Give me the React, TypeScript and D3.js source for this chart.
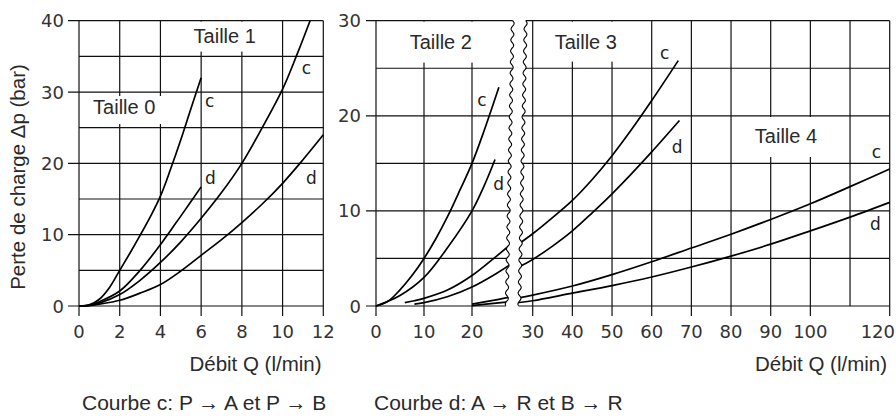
import React from 'react';
import * as d3 from 'd3';

// ---- axis ticks ----
const leftXTicks = [0, 2, 4, 6, 8, 10, 12];
const leftYGrid = [0, 5, 10, 15, 20, 25, 30, 35, 40];
const leftYLabels = [0, 10, 20, 30, 40];
const rightYGrid = [0, 5, 10, 15, 20, 25, 30];
const rightYLabels = [0, 10, 20, 30];
const rightXA = [0, 10, 20];
const rightXB = [30, 40, 50, 60, 70, 80, 90, 100, 110, 120];
const rightXBLabels = [30, 40, 50, 60, 70, 80, 90, 100, 120];

// ---- left chart series (Q l/min, Δp bar) ----
const taille0c = [[0, 0], [0.5, 0.15], [1, 0.95], [1.5, 2.6], [2, 5], [2.5, 7.4], [3, 9.9], [3.5, 12.5], [4, 15.4], [4.5, 19.2], [5, 23.3], [5.5, 27.7], [6, 32]];
const taille0d = [[0, 0], [0.5, 0.1], [1, 0.6], [2, 2.1], [3, 5], [4, 8.6], [4.5, 10.6], [5, 12.6], [6, 16.7]];
const taille1c = [[0, 0], [0.5, 0.1], [1, 0.4], [2, 1.6], [3, 3.6], [4, 6.1], [5, 9], [6, 12.3], [7, 15.9], [8, 20], [9, 25], [10, 30.4], [10.7, 35.2], [11.35, 40]];
const taille1d = [[0, 0], [0.5, 0.05], [1, 0.25], [2, 0.8], [3, 1.8], [4, 3], [5, 4.9], [6, 7.1], [7, 9.3], [8, 11.7], [9, 14.3], [10, 17.2], [11, 20.5], [12, 24]];

// ---- right chart series: left of the axis break ----
const taille2c = [[0, 0], [2.5, 0.5], [5, 1.7], [7.5, 3.2], [10, 5], [12.5, 7.1], [15, 9.5], [17.5, 12.2], [20, 15], [22.5, 18.4], [25.6, 23]];
const taille2d = [[0, 0], [5, 1.1], [10, 3], [15, 6.2], [20, 10], [22.5, 12.6], [24.8, 15.4]];
const taille3cLow = [[6, 0.35], [8, 0.55], [10, 0.8], [15, 1.7], [20, 3.2], [25, 5.2], [29, 6.9]];
const taille3dLow = [[8, 0.2], [10, 0.35], [15, 1.0], [20, 2.0], [25, 3.4], [29, 4.7]];
const taille4cLow = [[20, 0.2], [25, 0.65], [29, 1.05]];
const taille4dLow = [[20, 0.03], [25, 0.3], [29, 0.5]];
// ---- right chart series: right of the axis break ----
const taille3cHigh = [[25, 6.1], [30, 7.6], [35, 9.3], [40, 11.1], [45, 13.3], [50, 15.8], [55, 18.6], [60, 21.6], [66.7, 25.8]];
const taille3dHigh = [[25, 3.8], [30, 4.9], [35, 6.3], [40, 7.9], [45, 9.8], [50, 11.8], [55, 13.95], [60, 16.2], [67, 19.5]];
const taille4cHigh = [[25, 0.75], [30, 1.15], [40, 2.1], [50, 3.3], [60, 4.65], [70, 6.1], [80, 7.55], [90, 9.1], [100, 10.75], [110, 12.55], [120, 14.4]];
const taille4dHigh = [[25, 0.3], [30, 0.55], [40, 1.35], [50, 2.15], [60, 3.05], [70, 4.1], [80, 5.25], [90, 6.5], [100, 7.9], [110, 9.35], [120, 10.9]];

const leftSeries = [taille0c, taille0d, taille1c, taille1d];
const rightSeriesA = [taille2c, taille2d, taille3cLow, taille3dLow, taille4cLow, taille4dLow];
const rightSeriesB = [taille3cHigh, taille3dHigh, taille4cHigh, taille4dHigh];

const NUM_FONT = '"DejaVu Sans", sans-serif';
const TXT_FONT = '"Liberation Sans", Arial, sans-serif';
const TXT = '#2a2a2a';

export default function App() {
  const W = 896, H = 419;
  const xL = d3.scaleLinear().domain([0, 12]).range([79, 323.3]);
  const yL = d3.scaleLinear().domain([0, 40]).range([306, 20.7]);
  const yR = d3.scaleLinear().domain([0, 30]).range([306, 20.7]);
  const xA = d3.scaleLinear().domain([0, 20]).range([376, 472]);
  const xB = d3.scaleLinear().domain([30, 120]).range([532.7, 889.7]);

  const curve = d3.curveCatmullRom.alpha(0.5);
  const lineL = d3.line<number[]>().x(d => xL(d[0])).y(d => yL(d[1])).curve(curve);
  const lineA = d3.line<number[]>().x(d => xA(d[0])).y(d => yR(d[1])).curve(curve);
  const lineB = d3.line<number[]>().x(d => xB(d[0])).y(d => yR(d[1])).curve(curve);

  // wavy break lines
  const yTop = yR(30), yBot = yR(0) + 0.5;
  const wave = (xTop: number, xBot: number) => {
    const pts: [number, number][] = [];
    for (let y = yTop; y <= yBot + 0.01; y += 1) {
      const t = (y - yTop) / (yBot - yTop);
      pts.push([xTop + t * (xBot - xTop) + 1.5 * Math.sin(((y - yTop) / 11) * 2 * Math.PI), y]);
    }
    return pts;
  };
  const w1 = wave(512.7, 506.7);
  const w2 = wave(525.7, 519.3);
  const pathOf = (pts: [number, number][]) => d3.line()(pts) as string;
  const gapPoly = [...w1.map(p => [p[0], p[1]]), [w1[w1.length - 1][0], yBot + 2], [w2[w2.length - 1][0], yBot + 2], ...[...w2].reverse(), [w2[0][0], yTop - 0.8], [w1[0][0], yTop - 0.8]];
  const clipA = [[340, 10], [w1[0][0], 10], ...w1, [w1[w1.length - 1][0], 320], [340, 320]];
  const clipB = [[w2[0][0], 10], [900, 10], [900, 320], [w2[w2.length - 1][0], 320], ...[...w2].reverse()];
  const polyStr = (pts: number[][]) => pts.map(p => p.join(',')).join(' ');

  const gridStroke = '#111';
  const gw = 1.2;
  const cw = 1.7;

  const tailleBoxes = [
    { label: 'Taille 0', x: 124.2, y: 114, rect: [88, 96, 76, 28] },
    { label: 'Taille 1', x: 224.7, y: 43.3, rect: [188, 21.6, 73, 30] },
    { label: 'Taille 2', x: 440.8, y: 49.3, rect: [404, 21.6, 74, 41] },
    { label: 'Taille 3', x: 585.8, y: 49.3, rect: [549, 21.6, 73, 40] },
    { label: 'Taille 4', x: 786, y: 143.3, rect: [749, 117, 74, 40] },
  ];
  const curveLabels = [
    { t: 'c', x: 205, y: 107.3 },
    { t: 'd', x: 205, y: 184 },
    { t: 'c', x: 301.7, y: 74 },
    { t: 'd', x: 306, y: 184 },
    { t: 'c', x: 477.3, y: 106 },
    { t: 'd', x: 493.3, y: 190 },
    { t: 'c', x: 660, y: 59.3 },
    { t: 'd', x: 671.7, y: 153.3 },
    { t: 'c', x: 871.7, y: 158.3 },
    { t: 'd', x: 870, y: 230 },
  ];

  return (
    <div style={{ position: 'absolute', left: 0, top: 0 }}>
      <svg width={W} height={H} style={{ display: 'block', background: '#fff' }}>
        <defs>
          <clipPath id="clipA"><polygon points={polyStr(clipA)} /></clipPath>
          <clipPath id="clipB"><polygon points={polyStr(clipB)} /></clipPath>
        </defs>
        <rect x={0} y={0} width={W} height={H} fill="#fff" />

        {/* ---------- left chart vertical grid ---------- */}
        {leftXTicks.map(v => (
          <line key={'lv' + v} x1={xL(v)} x2={xL(v)} y1={yL(40)} y2={yL(0) + 10} stroke={gridStroke} strokeWidth={gw} />
        ))}
        {/* ---------- right chart vertical grid ---------- */}
        {rightXA.map(v => (
          <line key={'rva' + v} x1={xA(v)} x2={xA(v)} y1={yR(30)} y2={yR(0) + 10} stroke={gridStroke} strokeWidth={gw} />
        ))}
        {rightXB.map(v => (
          <line key={'rvb' + v} x1={xB(v)} x2={xB(v)} y1={yR(30)} y2={yR(0) + (rightXBLabels.includes(v) ? 10 : 0)} stroke={gridStroke} strokeWidth={gw} />
        ))}

        {/* white boxes behind Taille labels */}
        {tailleBoxes.map(b => (
          <rect key={'bx' + b.label} x={b.rect[0]} y={b.rect[1]} width={b.rect[2]} height={b.rect[3]} fill="#fff" />
        ))}

        {leftYGrid.map(v => (
          <line key={'lh' + v} x1={leftYLabels.includes(v) ? xL(0) - 11 : xL(0)} x2={xL(12)} y1={yL(v)} y2={yL(v)} stroke={gridStroke} strokeWidth={gw} />
        ))}
        {rightYGrid.map(v => (
          <line key={'rh' + v} x1={rightYLabels.includes(v) ? xA(0) - 10 : xA(0)} x2={xB(120)} y1={yR(v)} y2={yR(v)} stroke={gridStroke} strokeWidth={gw} />
        ))}

        {/* ---------- curves ---------- */}
        {leftSeries.map((s, i) => (
          <path key={'ls' + i} d={lineL(s) as string} fill="none" stroke="#000" strokeWidth={cw} />
        ))}
        <g clipPath="url(#clipA)">
          {rightSeriesA.map((s, i) => (
            <path key={'ra' + i} d={lineA(s) as string} fill="none" stroke="#000" strokeWidth={cw} />
          ))}
        </g>
        <g clipPath="url(#clipB)">
          {rightSeriesB.map((s, i) => (
            <path key={'rb' + i} d={lineB(s) as string} fill="none" stroke="#000" strokeWidth={cw} />
          ))}
        </g>

        {/* ---------- axis break ---------- */}
        <polygon points={polyStr(gapPoly)} fill="#fff" />
        <path d={pathOf(w1)} fill="none" stroke="#000" strokeWidth={1.1} />
        <path d={pathOf(w2)} fill="none" stroke="#000" strokeWidth={1.1} />

        {/* ---------- tick labels ---------- */}
        <g fontFamily={NUM_FONT} fontSize={18} fill="#333">
          {leftYLabels.map(v => (
            <text key={'lyl' + v} x={64} y={yL(v) + 6.5} textAnchor="end">{v}</text>
          ))}
          {rightYLabels.map(v => (
            <text key={'ryl' + v} x={361} y={yR(v) + 6.5} textAnchor="end">{v}</text>
          ))}
          {leftXTicks.map(v => (
            <text key={'lxl' + v} x={xL(v)} y={338} textAnchor="middle">{v}</text>
          ))}
          {rightXA.map(v => (
            <text key={'rxa' + v} x={xA(v)} y={338} textAnchor="middle">{v}</text>
          ))}
          {rightXBLabels.map(v => (
            <text key={'rxb' + v} x={v === 120 ? 895 : xB(v)} y={338} textAnchor={v === 120 ? 'end' : 'middle'}>{v}</text>
          ))}
          {curveLabels.map((c, i) => (
            <text key={'cl' + i} x={c.x} y={c.y} fontSize={17} fill="#222">{c.t}</text>
          ))}
        </g>

        {/* ---------- text labels ---------- */}
        <g fontFamily={TXT_FONT} fill={TXT}>
          {tailleBoxes.map(b => (
            <text key={'tl' + b.label} x={b.x} y={b.y} fontSize={20} textAnchor="middle">{b.label}</text>
          ))}
          <text x={255.5} y={371} fontSize={20.5} textAnchor="middle">Débit Q (l/min)</text>
          <text x={821} y={371} fontSize={20.5} textAnchor="middle">Débit Q (l/min)</text>
          <text transform="translate(25,177) rotate(-90)" fontSize={20.5} textAnchor="middle">Perte de charge Δp (bar)</text>
          <text x={82} y={410} fontSize={21}>Courbe c: P → A et P → B</text>
          <text x={374} y={410} fontSize={21}>Courbe d: A → R et B → R</text>
        </g>
      </svg>
    </div>
  );
}
